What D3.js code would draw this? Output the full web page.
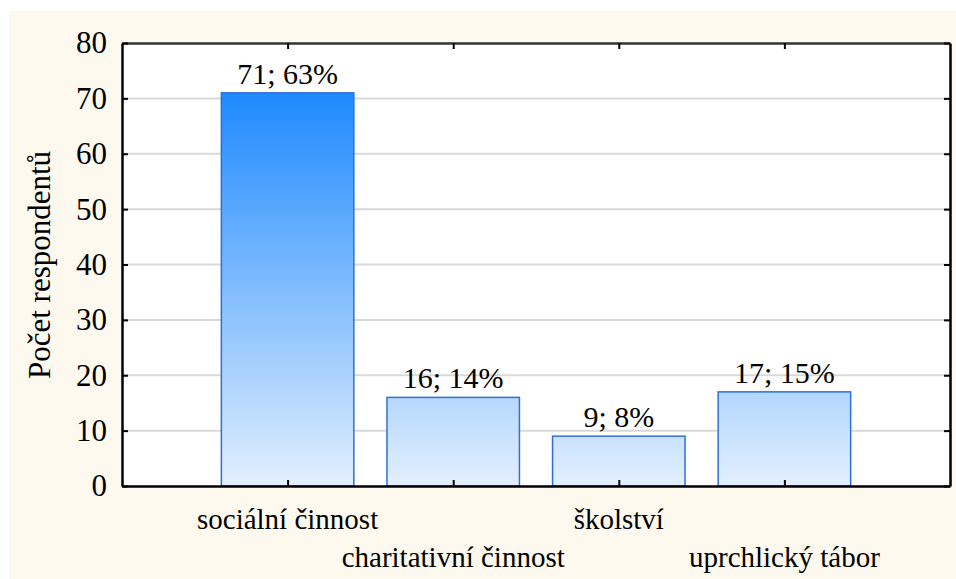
<!DOCTYPE html>
<meta charset="utf-8">
<script src="https://d3js.org/d3.v7.min.js"></script>
<style>
    body { margin: 0; background: #ffffff; }
</style>
<div id="chart"></div>
<script>
    // data
    var categories = ["sociální činnost", "charitativní činnost", "školství", "uprchlický tábor"];
    var counts = [71, 16, 9, 17];
    var percents = [63, 14, 8, 15];
    var yTicks = [0, 10, 20, 30, 40, 50, 60, 70, 80];

    var FONT = "Liberation Serif, Times New Roman, serif";

    var W = 956, H = 579;
    var margin = { top: 43, right: 6, bottom: 93, left: 122 },
        width = W - margin.left - margin.right,
        height = H - margin.top - margin.bottom;

    var root = d3.select("#chart").append("svg")
        .attr("width", W)
        .attr("height", H)
        .attr("font-family", FONT);

    // cream panel
    root.append("rect")
        .attr("x", 9).attr("y", 11)
        .attr("width", W - 9).attr("height", H - 11)
        .attr("fill", "#fdf9ef");

    var svg = root.append("g")
        .attr("transform", "translate(" + margin.left + "," + margin.top + ")");

    // scales: categories sit at 1..4 on a 0..5 axis
    var x = d3.scaleLinear().domain([0, categories.length + 1]).range([0, width]);
    var y = d3.scaleLinear().domain([0, 80]).range([height, 0]);
    var barW = (x(1) - x(0)) * 0.8;

    svg.append("rect")
        .attr("width", width).attr("height", height)
        .attr("fill", "#ffffff");

    // gradient across the whole plot height
    var grad = root.append("defs").append("linearGradient")
        .attr("id", "barGrad")
        .attr("gradientUnits", "userSpaceOnUse")
        .attr("x1", 0).attr("x2", 0)
        .attr("y1", y(0)).attr("y2", y(80));
    grad.append("stop").attr("offset", "0%").attr("stop-color", "#e2effd");
    grad.append("stop").attr("offset", "100%").attr("stop-color", "#067dff");

    // grid
    svg.selectAll(".grid")
        .data(yTicks.filter(function (d) { return d > 0 && d < 80; }))
        .enter().append("line")
        .attr("x1", 0).attr("x2", width)
        .attr("y1", function (d) { return y(d); })
        .attr("y2", function (d) { return y(d); })
        .attr("stroke", "#d9d9d9")
        .attr("stroke-width", 2);

    // bars
    svg.selectAll(".bar")
        .data(counts)
        .enter().append("rect")
        .attr("x", function (d, i) { return x(i + 1) - barW / 2; })
        .attr("y", function (d) { return y(d); })
        .attr("width", barW)
        .attr("height", function (d) { return y(0) - y(d); })
        .attr("fill", "url(#barGrad)")
        .attr("stroke", "#2f6fdc")
        .attr("stroke-width", 1.5);

    // bar labels
    svg.selectAll(".lbl")
        .data(counts)
        .enter().append("text")
        .attr("x", function (d, i) { return x(i + 1); })
        .attr("y", function (d) { return y(d) - 9; })
        .attr("text-anchor", "middle")
        .attr("font-size", 30)
        .text(function (d, i) { return d + "; " + percents[i] + "%"; });

    // axes
    var catTicks = categories.map(function (d, i) { return i + 1; });
    var gx = svg.append("g")
        .attr("transform", "translate(0," + height + ")")
        .call(d3.axisBottom(x).tickValues(catTicks).tickSizeInner(-6).tickSizeOuter(0).tickFormat(""));
    var gt = svg.append("g")
        .call(d3.axisTop(x).tickValues(catTicks).tickSizeInner(-6).tickSizeOuter(0).tickFormat(""));
    var gy = svg.append("g")
        .call(d3.axisLeft(y).tickValues(yTicks).tickSizeInner(-6).tickSizeOuter(0).tickPadding(15));
    var gr = svg.append("g")
        .attr("transform", "translate(" + width + ",0)")
        .call(d3.axisRight(y).tickValues(yTicks).tickSizeInner(-6).tickSizeOuter(0).tickFormat(""));

    [gx, gt, gy, gr].forEach(function (g) {
        g.attr("font-family", FONT).attr("font-size", 31);
        g.select(".domain").attr("stroke", "#000").attr("stroke-width", 2.5);
        g.selectAll(".tick line").attr("stroke", "#000").attr("stroke-width", 2);
    });
    gt.select(".domain").attr("stroke", "#333");
    gy.selectAll(".tick text").attr("fill", "#000");

    // category labels, staggered
    svg.selectAll(".cat")
        .data(categories)
        .enter().append("text")
        .attr("x", function (d, i) { return x(i + 1); })
        .attr("y", function (d, i) { return height + (i % 2 === 0 ? 43 : 81); })
        .attr("text-anchor", "middle")
        .attr("font-size", 29)
        .text(function (d) { return d; });

    // y title
    root.append("text")
        .attr("transform", "translate(50," + 265 + ")rotate(-90)")
        .attr("text-anchor", "middle")
        .attr("font-size", 31)
        .text("Počet respondentů");
</script>
